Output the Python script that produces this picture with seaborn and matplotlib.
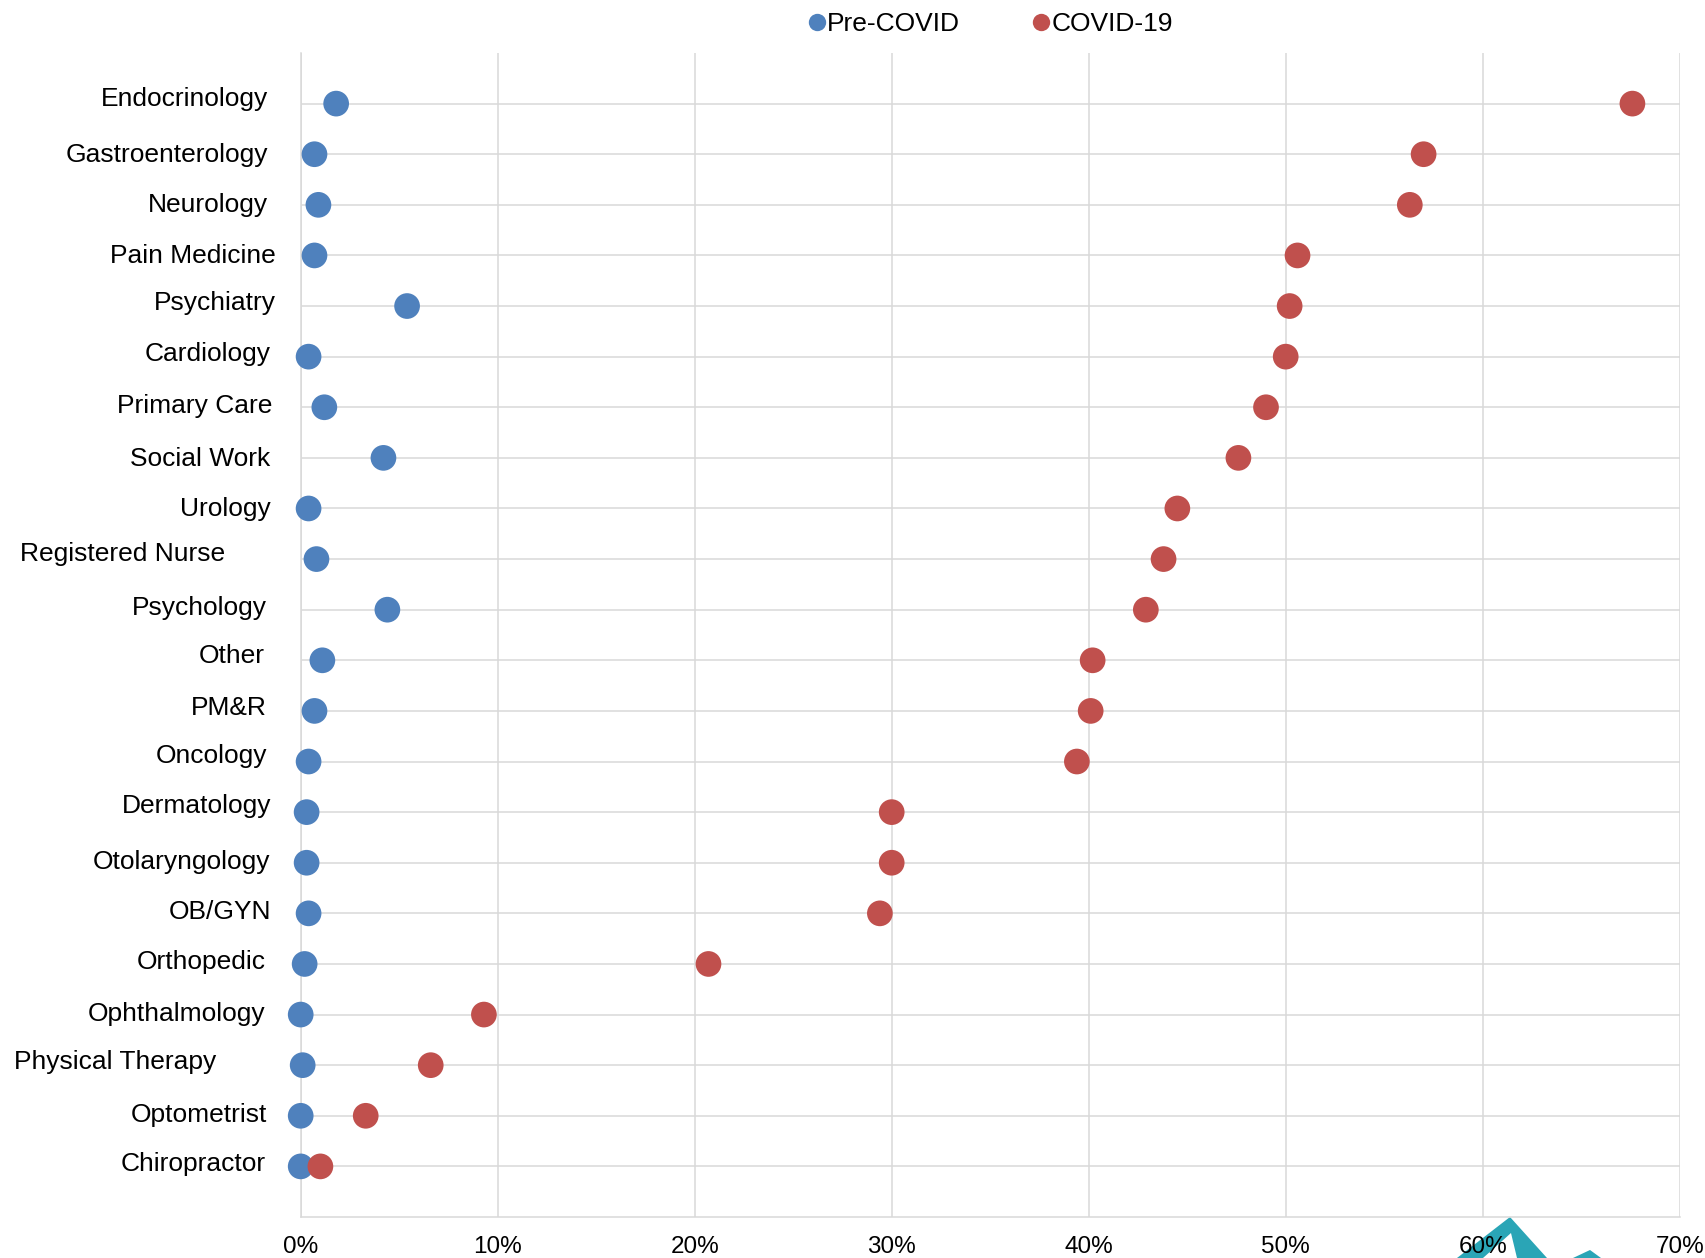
import matplotlib
matplotlib.use("Agg")
import matplotlib.pyplot as plt
from matplotlib.lines import Line2D
from matplotlib.patches import Polygon
from matplotlib.ticker import PercentFormatter
import matplotlib.transforms as mtransforms
import pandas as pd
import seaborn as sns

# Share of visits delivered via telehealth, by specialty
specialties = [
    "Endocrinology", "Gastroenterology", "Neurology", "Pain Medicine",
    "Psychiatry", "Cardiology", "Primary Care", "Social Work", "Urology",
    "Registered Nurse", "Psychology", "Other", "PM&R", "Oncology",
    "Dermatology", "Otolaryngology", "OB/GYN", "Orthopedic",
    "Ophthalmology", "Physical Therapy", "Optometrist", "Chiropractor",
]
pre_covid = [1.8, 0.7, 0.9, 0.7, 5.4, 0.4, 1.2, 4.2, 0.4, 0.8, 4.4,
             1.1, 0.7, 0.4, 0.3, 0.3, 0.4, 0.2, 0.0, 0.1, 0.0, 0.0]
covid_19 = [67.6, 57.0, 56.3, 50.6, 50.2, 50.0, 49.0, 47.6, 44.5, 43.8, 42.9,
            40.2, 40.1, 39.4, 30.0, 30.0, 29.4, 20.7, 9.3, 6.6, 3.3, 1.0]
periods = ["Pre-COVID", "COVID-19"]
colors = ["#4F81BD", "#C0504D"]
x_ticks = [0, 10, 20, 30, 40, 50, 60, 70]

# label nudges (right gap, upward shift), in pixels
label_gap = [33, 33, 33, 25, 25, 30, 28, 30, 30, 76, 34, 36, 34, 33,
             29, 30, 29, 35, 35, 84, 34, 35]
label_rise = [5, 0, 0, 0, 3.5, 3.3, 2, -1, 0, 5.4, 2, 4.4, 3.3, 6.5,
              6.5, 1, 2, 2, 1, 4, 1.7, 2.5]

df = pd.DataFrame({
    "Specialty": specialties * 2,
    "Share": pre_covid + covid_19,
    "Period": [periods[0]] * len(specialties) + [periods[1]] * len(specialties),
})

sns.set_theme(style="white")
plt.rcParams["font.family"] = ["Liberation Sans", "DejaVu Sans"]
plt.rcParams["text.color"] = "black"

DPI = 100
W, H = 1706, 1258
fig = plt.figure(figsize=(W / DPI, H / DPI), dpi=DPI)
ax = fig.add_axes([300.7 / W, 1 - 1217 / H, 1379 / W, (1217 - 53) / H])
ax.patch.set_alpha(0)

sns.stripplot(data=df, x="Share", y="Specialty", hue="Period",
              order=specialties, hue_order=periods, palette=colors,
              jitter=False, dodge=False, size=18.5, linewidth=0,
              legend=False, ax=ax, zorder=3)
for coll in ax.collections:
    coll.set_clip_on(False)

ax.set_xlim(0, 70)
ax.set_ylim(len(specialties), -1)
ax.set_xticks(x_ticks)
ax.xaxis.set_major_formatter(PercentFormatter(100, decimals=0))
ax.tick_params(axis="x", length=0, pad=13.5, labelsize=17.5, labelcolor="black")
ax.set_xlabel("")
ax.set_ylabel("")

grid_color = "#D9D9D9"
ax.grid(True, axis="both", color=grid_color, linewidth=1.1, zorder=0)
ax.set_axisbelow(True)
for side in ["left", "bottom"]:
    ax.spines[side].set_color(grid_color)
    ax.spines[side].set_linewidth(1.1)
ax.spines["top"].set_visible(False)
ax.spines["right"].set_visible(False)

# category labels, placed beside the axis with small nudges
ax.set_yticks(range(len(specialties)))
ax.set_yticklabels([])
ax.tick_params(axis="y", length=0)
ytrans = ax.get_yaxis_transform()
cap_half = 7.5  # baseline drop below the row centre, px
for i, name in enumerate(specialties):
    off = mtransforms.ScaledTranslation(-label_gap[i] / DPI,
                                        -(cap_half - label_rise[i]) / DPI,
                                        fig.dpi_scale_trans)
    ax.text(0, i, name, transform=ytrans + off, ha="right", va="baseline",
            fontsize=19, color="black")

handles = [Line2D([0], [0], marker="o", linestyle="", markersize=12.5,
                  markerfacecolor=c, markeredgewidth=0) for c in colors]
fig.legend(handles, periods, loc="center", bbox_to_anchor=(990 / W, 1 - 24 / H),
           ncol=2, frameon=False, fontsize=19, handlelength=0.7,
           handletextpad=0.05, columnspacing=2.7, borderpad=0,
           labelcolor="black")

# corner emblem
teal = "#2AA5B6"
shapes = [
    [(1457, 1258), (1510, 1217), (1547, 1258), (1517, 1258), (1511, 1233), (1483, 1258)],
    [(1573, 1258), (1590, 1250), (1601, 1258)],
]
for pts in shapes:
    fig.patches.append(Polygon([(x / W, 1 - y / H) for x, y in pts],
                               closed=True, facecolor=teal, edgecolor="none",
                               transform=fig.transFigure, zorder=-1))

fig.savefig("out.png", dpi=DPI, facecolor="white")
